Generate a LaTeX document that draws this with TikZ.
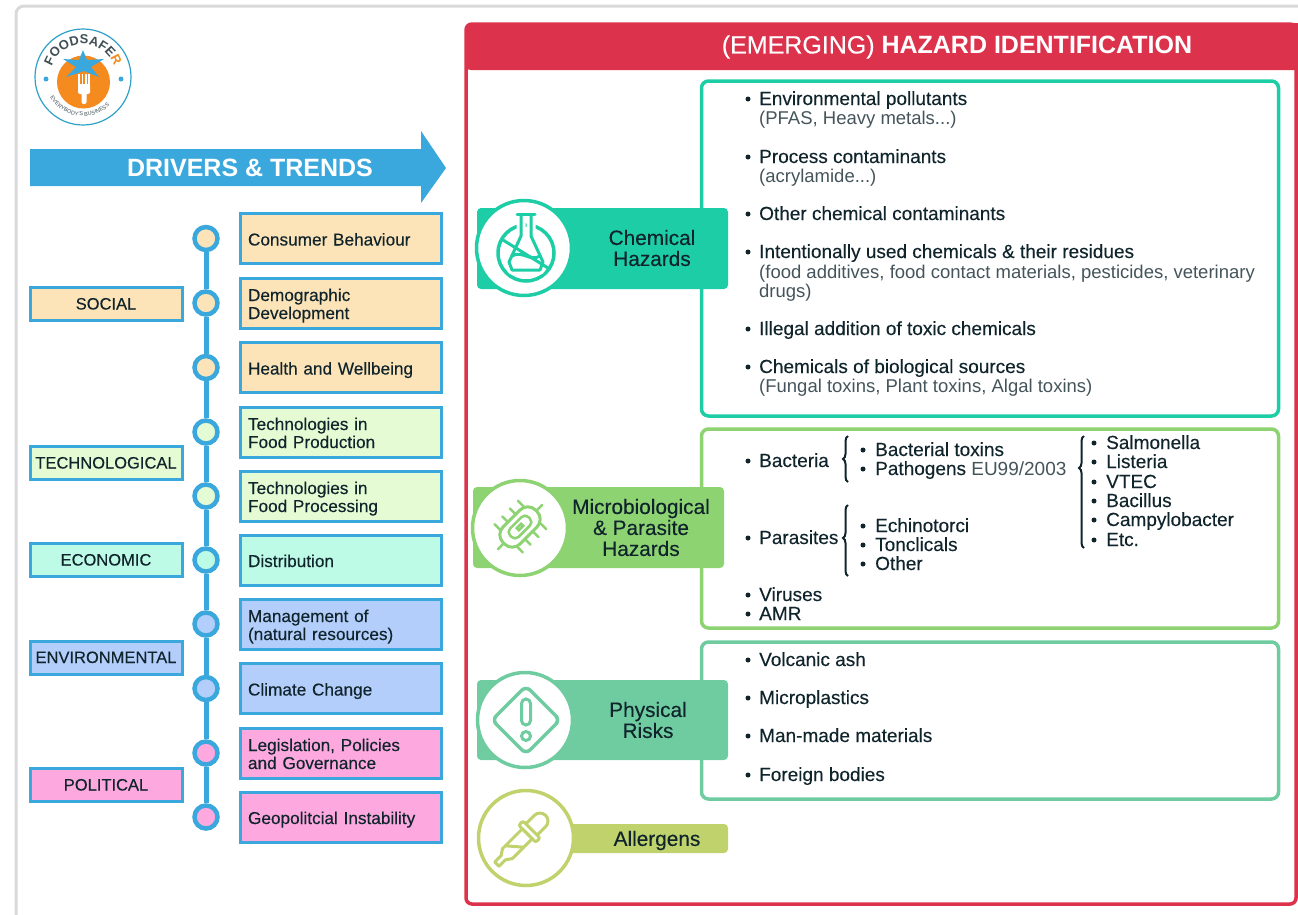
\documentclass[tikz,border=0pt]{standalone}
\usepackage{fontspec}
\setmainfont{Liberation Sans}
\newfontfamily\medfont[FakeBold=0.25]{Liberation Sans}
\usetikzlibrary{decorations.text,decorations.pathreplacing,shapes.geometric}
\definecolor{sky}{HTML}{3AA8DC}
\definecolor{hazred}{HTML}{DC324C}
\definecolor{ink}{HTML}{10242C}
\definecolor{subink}{HTML}{44545A}
\definecolor{sand}{HTML}{FDE3B8}
\definecolor{lime}{HTML}{E5FBD3}
\definecolor{mint}{HTML}{BDFBE6}
\definecolor{periw}{HTML}{B4CEFC}
\definecolor{pink}{HTML}{FDA9E0}
\definecolor{chemc}{HTML}{1CCDA5}
\definecolor{microc}{HTML}{8ED372}
\definecolor{physc}{HTML}{6FCCA0}
\definecolor{allerc}{HTML}{BFD26C}
\definecolor{logoo}{HTML}{F58A1F}
\begin{document}
\begin{tikzpicture}[x=1pt,y=-1pt,
   trend/.style={draw=sky,line width=3pt,minimum width=201pt,minimum height=50pt,inner sep=0pt,
      text width=186pt,align=left,text=ink,font=\medfont\fontsize{17.2}{18}\selectfont,
      execute at begin node={\rule{0pt}{19pt}},execute at end node={\rule[-5pt]{0pt}{5pt}}},
   group/.style={draw=sky,line width=3pt,minimum width=152pt,minimum height=33pt,inner sep=0pt,
      text=ink,text height=11pt,text depth=0pt,font=\medfont\fontsize{16.5}{18}\selectfont},
   dot/.style={circle,draw=sky,line width=4.5pt,minimum size=23pt,inner sep=0pt},
   spine/.style={draw=sky,line width=5pt},
   hazbox/.style={draw=#1,line width=3.5pt,rounded corners=7pt,minimum width=577pt,inner sep=0pt},
   tab/.style={fill=#1,rounded corners=4pt,minimum width=251pt,inner sep=0pt},
   disc/.style={circle,fill=white,draw=#1,line width=3.5pt,minimum size=95pt,inner sep=0pt},
   tablabel/.style={align=center,text=ink,inner sep=0pt,font=\medfont\fontsize{20.8}{21}\selectfont},
   bul/.style={circle,fill=ink,minimum size=5pt,inner sep=0pt},
   itm/.style={anchor=west,text=ink,inner sep=0pt,text height=13pt,text depth=1pt,font=\medfont\fontsize{19}{20}\selectfont},
   note/.style={anchor=west,text=subink,inner sep=0pt,text height=13pt,text depth=1pt,font=\fontsize{18.5}{20}\selectfont},
   curly/.style={decorate,decoration={brace,amplitude=5pt,aspect=#1},draw=ink,line width=2pt}]
\clip (0,0) rectangle (1298,914);
% frame
\draw[black!15,line width=3pt,rounded corners=8pt] (1330,6) -- (16,6) -- (16,940);
% logo
\node[circle,fill=white,draw=sky!80!teal,line width=1.2pt,minimum size=96pt,inner sep=0pt] (logo) at (83,77) {};
\node[circle,fill=logoo,minimum size=53pt,inner sep=0pt] (tomato) at (83.5,82) {};
\fill[sky] (83,50) -- (87,60) -- (104,59) -- (91,67) -- (99,77) -- (84,71) -- (66,77) -- (76,67) -- (63,59) -- (79,60) -- cycle;
\fill[white,rounded corners=2pt] (78,84) rectangle (90,94) (81.5,90) rectangle (86.5,104);
\foreach \xx in {79,82.5,86,89}
   \fill[white] (\xx-0.8,74) rectangle (\xx+0.8,88);
\node[circle,fill=sky,minimum size=5pt,inner sep=0pt] (logol) at (46,79) {};
\node[circle,fill=sky,minimum size=5pt,inner sep=0pt] (logor) at (121,79) {};
\path[postaction={decorate,decoration={text along path,text align={left indent=11pt},
   text={|\fontsize{13}{14}\selectfont\bfseries\color{ink!80}|FOODSAFE|\fontsize{13}{14}\selectfont\bfseries\color{logoo}|R}}}]
   (50,77) arc[start angle=180,end angle=360,radius=33];
\path[postaction={decorate,decoration={text along path,text align={left indent=5pt},
   text={|\fontsize{5.5}{6}\selectfont\color{ink!80}|EVERYBODY'S BUSINESS}}}]
   (47.7,93.5) arc[start angle=155,end angle=25,radius=39];
% drivers
\fill[sky] (30,149) -- (421,149) -- (421,131) -- (446,168) -- (421,203) -- (421,186) -- (30,186) -- cycle;
\node[text=white,inner sep=0pt,font=\fontsize{25}{27}\selectfont\bfseries] (drivers) at (250,168) {DRIVERS \& TRENDS};
\foreach \i/\yy/\col/\lab in {
   1/238.5/sand/{Consumer Behaviour},
   2/303/sand/{Demographic\\Development},
   3/367.5/sand/{Health and Wellbeing},
   4/432/lime/{Technologies in\\Food Production},
   5/496/lime/{Technologies in\\Food Processing},
   6/560/mint/{Distribution},
   7/624/periw/{Management of\\(natural resources)},
   8/688.5/periw/{Climate Change},
   9/753/pink/{Legislation, Policies\\and Governance},
   10/817/pink/{Geopolitcial Instability}}{
   \node[trend,fill=\col] (trend\i) at (341,\yy) {\lab};
   \node[dot,fill=\col] (dot\i) at (206,\yy) {};
}
\foreach \a/\b in {1/2,2/3,3/4,4/5,5/6,6/7,7/8,8/9,9/10}
   \draw[spine] (dot\a) -- (dot\b);
\node[group,fill=sand] (social) at (106,304) {SOCIAL};
\node[group,fill=lime] (techno) at (106,463) {TECHNOLOGICAL};
\node[group,fill=mint] (econ) at (106,560) {ECONOMIC};
\node[group,fill=periw] (envir) at (106,657.5) {ENVIRONMENTAL};
\node[group,fill=pink] (polit) at (106,785) {POLITICAL};
% hazard panel
\draw[hazred,line width=3.5pt,rounded corners=6pt] (466,24) rectangle (1296,904);
\fill[hazred,rounded corners=6pt] (465,70) -- (465,23) -- (1310,23) -- (1310,70) -- cycle;
\node[text=white,inner sep=0pt,font=\fontsize{25}{27}\selectfont] (hazhead) at (957,47) {{\medfont (EMERGING)} \textbf{HAZARD IDENTIFICATION}};
\node[hazbox=chemc,minimum height=335pt] (chembox) at (990,248.5) {};
\node[hazbox=microc,minimum height=199pt] (microbox) at (990,528.5) {};
\node[hazbox=physc,minimum height=157pt] (physbox) at (990,720.5) {};
% chemical
\node[tab=chemc,minimum height=81pt] (chemtab) at (602.5,248.5) {};
\node[disc=chemc] (chemdisc) at (524,248) {};
\node[tablabel] (chemlab) at (652,248) {Chemical\\Hazards};
\draw[chemc,line width=3.5pt] (526,253) circle[radius=28];
\draw[white,line width=9pt,line join=round] (521,214) -- (521,236) -- (509,262) -- (512,270) -- (540,270) -- (543,262) -- (531,236) -- (531,214);
\draw[chemc,line width=3pt,line join=round] (521,214) -- (521,236) -- (509,262) -- (512,270) -- (540,270) -- (543,262) -- (531,236) -- (531,214);
\draw[chemc,line width=3pt,line cap=round] (517,214) -- (535,214);
\draw[chemc,line width=3pt] (503,240) -- (548,268);
\draw[chemc,line width=3pt] (512,256) .. controls (522,250) and (530,262) .. (540,256);
\foreach \yy/\txt in {99/{Environmental pollutants},157/{Process contaminants},214/{Other chemical contaminants},
   252/{Intentionally used chemicals \& their residues},329/{Illegal addition of toxic chemicals},367/{Chemicals of biological sources}}{
   \node[bul] at (748,\yy) {};
   \node[itm] at (759,\yy) {\txt};
}
\foreach \yy/\txt in {118/{(PFAS, Heavy metals...)},176/{(acrylamide...)},272/{(food additives, food contact materials, pesticides, veterinary},
   291/{drugs)},386/{(Fungal toxins, Plant toxins, Algal toxins)}}
   \node[note] at (759,\yy) {\txt};
% microbiological
\node[tab=microc,minimum height=81pt] (microtab) at (598.5,527.5) {};
\node[disc=microc] (microdisc) at (520,528) {};
\node[tablabel] (microlab) at (641,527.5) {Microbiological\\\& Parasite\\Hazards};
\begin{scope}[shift={(520,527)},rotate=45]
\draw[microc,line width=3pt,rounded corners=11pt] (-23,-12) rectangle (23,12);
\draw[microc,line width=2.5pt,rounded corners=5pt] (-13,-6) rectangle (13,6);
\draw[microc,line width=2.5pt] (-3,-1.5) rectangle (3,1.5);
\foreach \xx in {-16,-5,6,17}{
   \draw[microc,line width=2.5pt,line cap=round] (\xx,-12) -- (\xx,-20);
   \draw[microc,line width=2.5pt,line cap=round] (\xx,12) -- (\xx,20);
}
\draw[microc,line width=2.5pt,line cap=round] (-23,0) -- (-31,0) (23,0) -- (31,0);
\end{scope}
\foreach \yy/\txt in {461/Bacteria,538/Parasites,595/Viruses,614/AMR}{
   \node[bul] at (748,\yy) {};
   \node[itm] at (759,\yy) {\txt};
}
\draw[curly=.5] (848,482) -- (848,436);
\draw[curly=.535] (848,576) -- (848,505);
\draw[curly=.714] (1084,548) -- (1084,436);
\foreach \yy/\txt in {450/{Bacterial toxins},469/{Pathogens {\normalfont\textcolor{subink}{EU99/2003}}},526/Echinotorci,545/Tonclicals,564/Other}{
   \node[bul] at (863,\yy) {};
   \node[itm] at (875,\yy) {\txt};
}
\foreach \yy/\txt in {443/Salmonella,462/Listeria,482/VTEC,501/Bacillus,520/Campylobacter,540/Etc.}{
   \node[bul] at (1094,\yy) {};
   \node[itm] at (1106,\yy) {\txt};
}
% physical
\node[tab=physc,minimum height=80pt] (phystab) at (602.5,720) {};
\node[disc=physc] (physdisc) at (525,720) {};
\node[tablabel] (physlab) at (648,720) {Physical\\Risks};
\draw[physc,line width=3.5pt,rounded corners=6pt] (526,686) -- (560,720) -- (526,754) -- (492,720) -- cycle;
\draw[physc,line width=3pt,rounded corners=4.5pt] (521.5,699) rectangle (530.5,725);
\draw[physc,line width=3pt] (526,736) circle[radius=4.5];
\foreach \yy/\txt in {660/{Volcanic ash},698/Microplastics,736/{Man-made materials},775/{Foreign bodies}}{
   \node[bul] at (748,\yy) {};
   \node[itm] at (759,\yy) {\txt};
}
% allergens
\node[fill=allerc,rounded corners=4pt,minimum width=170pt,minimum height=29pt,inner sep=0pt] (allertab) at (643,838.5) {};
\node[disc=allerc] (allerdisc) at (526,838) {};
\node[tablabel] (allerlab) at (657,840.5) {Allergens};
\begin{scope}[shift={(523,838)},rotate=45]
\draw[allerc,line width=3pt,line join=round] (-37,-3) -- (-28,-3) -- (-22,-7) -- (6,-7) -- (6,7) -- (-22,7) -- (-28,3) -- (-37,3) -- cycle;
\draw[allerc,line width=3pt,rounded corners=2pt] (6,-12) rectangle (12,12);
\draw[allerc,line width=3pt,rounded corners=8pt] (12,-8) -- (32,-8) -- (32,8) -- (12,8);
\draw[allerc,line width=3pt] (-18,-7) -- (-6,7);
\end{scope}
\end{tikzpicture}
\end{document}
